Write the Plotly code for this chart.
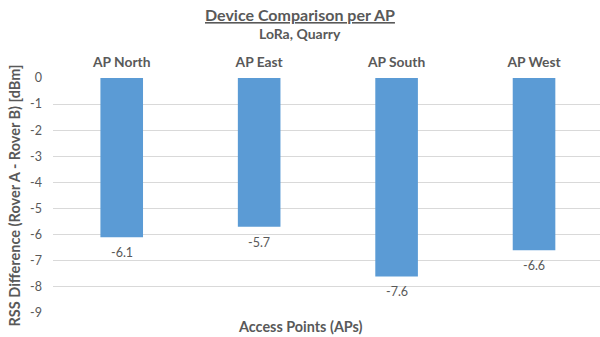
import plotly.graph_objects as go

# Access points and RSS difference (Rover A - Rover B) in dBm
access_points = ["AP North", "AP East", "AP South", "AP West"]
rss_difference = [-6.1, -5.7, -7.6, -6.6]
y_ticks = [0, -1, -2, -3, -4, -5, -6, -7, -8, -9]

FONT = "Lato, 'Open Sans', sans-serif"
GREY = "#595959"

fig = go.Figure(
    go.Bar(
        x=access_points,
        y=rss_difference,
        marker=dict(color="#5B9BD5", line=dict(width=0)),
        cliponaxis=False,
    )
)

# Value labels just below each bar end
value_labels = [
    dict(
        x=ap, y=v, xref="x", yref="y",
        text=f"{v:.1f}",
        showarrow=False,
        yanchor="top", xanchor="center",
        yshift=-6,
        font=dict(family=FONT, size=12.5, color=GREY),
    )
    for ap, v in zip(access_points, rss_difference)
]

# Header and footer texts, positioned in pixels from the top of the page
plot_top, plot_h = 78, 337 - 78 - 24
center_x = (300 - 53) / 547


def page_text(text, y_px, size):
    return dict(
        text=text,
        x=center_x, y=1 - (y_px - plot_top) / plot_h,
        xref="paper", yref="paper",
        xanchor="center", yanchor="middle",
        showarrow=False,
        font=dict(family=FONT, size=size, color=GREY, weight="bold"),
    )


fig.update_layout(
    width=600,
    height=337,
    margin=dict(l=53, r=0, t=78, b=24),
    paper_bgcolor="white",
    plot_bgcolor="white",
    showlegend=False,
    bargap=0.69,
    font=dict(family=FONT, color=GREY),
    xaxis=dict(
        side="top",
        range=[-0.5, 3.48],
        showgrid=False,
        showline=False,
        ticks="",
        ticklabelstandoff=7,
        tickfont=dict(family=FONT, size=13.8, color=GREY, weight="bold"),
    ),
    yaxis=dict(
        range=[-9, 0],
        tickvals=y_ticks,
        ticktext=[str(v) for v in y_ticks],
        showgrid=True,
        gridcolor="#D9D9D9",
        gridwidth=1,
        zeroline=False,
        showline=False,
        ticks="",
        ticklabelstandoff=10,
        tickfont=dict(family=FONT, size=12.5, color=GREY),
        title=dict(
            text="RSS Difference (Rover A - Rover B) [dBm]",
            font=dict(family=FONT, size=14.5, color=GREY, weight="bold"),
            standoff=6,
        ),
    ),
    annotations=value_labels + [
        page_text("<u>Device Comparison per AP</u>", 14, 16),
        page_text("LoRa, Quarry", 33, 14),
        page_text("Access Points (APs)", 326, 14.4),
    ],
)

fig.write_html("out.html")
